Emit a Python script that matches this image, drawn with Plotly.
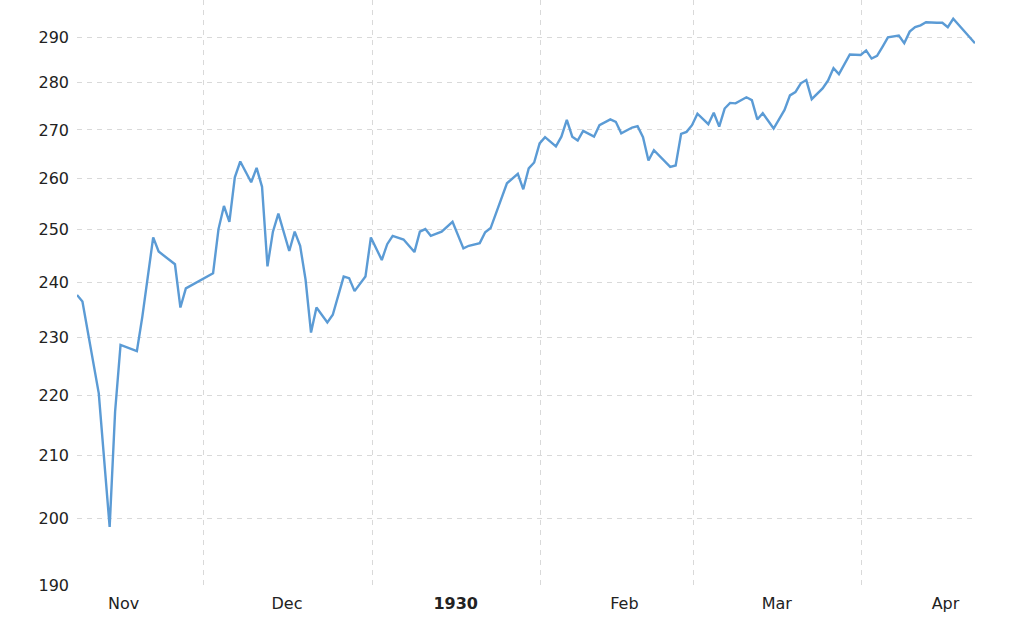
import math
import pandas as pd
import plotly.graph_objects as go

dates = [
    "1929-11-07", "1929-11-08", "1929-11-11", "1929-11-13", "1929-11-14", "1929-11-15",
    "1929-11-18", "1929-11-19", "1929-11-21", "1929-11-22", "1929-11-25", "1929-11-26",
    "1929-11-27", "1929-12-02", "1929-12-03", "1929-12-04", "1929-12-05", "1929-12-06",
    "1929-12-07", "1929-12-09", "1929-12-10", "1929-12-11", "1929-12-12", "1929-12-13",
    "1929-12-14", "1929-12-16", "1929-12-17", "1929-12-18", "1929-12-19", "1929-12-20",
    "1929-12-21", "1929-12-23", "1929-12-24", "1929-12-26", "1929-12-27", "1929-12-28",
    "1929-12-30", "1929-12-31", "1930-01-02", "1930-01-03", "1930-01-04", "1930-01-06",
    "1930-01-08", "1930-01-09", "1930-01-10", "1930-01-11", "1930-01-13", "1930-01-15",
    "1930-01-17", "1930-01-18", "1930-01-20", "1930-01-21", "1930-01-22", "1930-01-24",
    "1930-01-25", "1930-01-27", "1930-01-28", "1930-01-29", "1930-01-30", "1930-01-31",
    "1930-02-01", "1930-02-03", "1930-02-04", "1930-02-05", "1930-02-06", "1930-02-07",
    "1930-02-08", "1930-02-10", "1930-02-11", "1930-02-13", "1930-02-14", "1930-02-15",
    "1930-02-17", "1930-02-18", "1930-02-19", "1930-02-20", "1930-02-21", "1930-02-24",
    "1930-02-25", "1930-02-26", "1930-02-27", "1930-02-28", "1930-03-01", "1930-03-03",
    "1930-03-04", "1930-03-05", "1930-03-06", "1930-03-07", "1930-03-08", "1930-03-10",
    "1930-03-11", "1930-03-12", "1930-03-13", "1930-03-15", "1930-03-17", "1930-03-18",
    "1930-03-19", "1930-03-20", "1930-03-21", "1930-03-22", "1930-03-24", "1930-03-25",
    "1930-03-26", "1930-03-27", "1930-03-29", "1930-03-31", "1930-04-01", "1930-04-02",
    "1930-04-03", "1930-04-04", "1930-04-05", "1930-04-07", "1930-04-08", "1930-04-09",
    "1930-04-10", "1930-04-11", "1930-04-12", "1930-04-14", "1930-04-15", "1930-04-16",
    "1930-04-17", "1930-04-21",
]

values = [
    237.7, 236.5, 220.3, 198.7, 217.2, 228.7,
    227.6, 233.7, 248.5, 245.8, 243.4, 235.4,
    238.9, 241.7, 250.1, 254.6, 251.5, 260.3,
    263.5, 259.3, 262.2, 258.4, 243.0, 249.6,
    253.1, 245.9, 249.6, 246.9, 240.5, 230.9,
    235.4, 232.7, 234.1, 241.1, 240.8, 238.4,
    241.1, 248.5, 244.2, 247.2, 248.8, 248.1,
    245.7, 249.6, 250.1, 248.8, 249.6, 251.5,
    246.4, 246.9, 247.4, 249.5, 250.3, 256.4,
    259.1, 261.0, 257.9, 262.1, 263.3, 267.2,
    268.5, 266.6, 268.6, 272.1, 268.6, 267.8,
    269.8, 268.6, 271.0, 272.2, 271.7, 269.3,
    270.5, 270.8, 268.5, 263.7, 265.8, 262.4,
    262.7, 269.2, 269.6, 271.0, 273.4, 271.2,
    273.6, 270.7, 274.5, 275.7, 275.6, 276.9,
    276.3, 272.2, 273.5, 270.3, 274.2, 277.3,
    278.0, 279.9, 280.6, 276.5, 278.8, 280.5,
    283.2, 281.9, 286.2, 286.1, 287.1, 285.3,
    285.9, 287.9, 290.0, 290.4, 288.7, 291.3,
    292.3, 292.7, 293.4, 293.3, 293.3, 292.3,
    294.2, 288.7,
]

month_starts = ["1929-11-01", "1929-12-01", "1930-01-01", "1930-02-01",
                "1930-03-01", "1930-04-01", "1930-05-01"]
month_labels = ["Nov", "Dec", "<b>1930</b>", "Feb", "Mar", "Apr"]

y_ticks = [190, 200, 210, 220, 230, 240, 250, 260, 270, 280, 290]
y_ticktext = [str(v) for v in y_ticks]

# month boundaries (slightly shifted like the source chart) and mid-month label positions
shift = pd.Timedelta(hours=19)
grid_vals = [(pd.Timestamp(m) - shift).strftime("%Y-%m-%d %H:%M:%S")
             for m in month_starts[1:-1]]
label_vals = [(pd.Timestamp(m) + pd.Timedelta(days=14, hours=14)).strftime("%Y-%m-%d %H:%M:%S")
              for m in month_starts[:len(month_labels)]]

fig = go.Figure()
fig.add_trace(go.Scatter(
    x=dates, y=values, mode="lines",
    line=dict(color="#5b9bd5", width=2.4),
    hoverinfo="x+y", showlegend=False,
))

grid_color = "#d9d9d9"
fig.update_layout(
    width=1024, height=618,
    margin=dict(l=77, r=49, t=0, b=33),
    paper_bgcolor="white", plot_bgcolor="white",
    font=dict(family="DejaVu Sans, Verdana, sans-serif", size=16, color="#222222"),
    xaxis=dict(
        type="date",
        range=[dates[0], dates[-1]],
        tickmode="array", tickvals=label_vals, ticktext=month_labels,
        showgrid=False, ticks="", showline=False, zeroline=False,
        ticklabelstandoff=7,
        minor=dict(tickmode="array", tickvals=grid_vals, showgrid=True,
                   gridcolor=grid_color, griddash="5px,5px", gridwidth=1, ticks=""),
    ),
    yaxis=dict(
        type="log",
        range=[math.log10(190), math.log10(298.5)],
        tickmode="array", tickvals=y_ticks, ticktext=y_ticktext,
        showgrid=True, gridcolor=grid_color, griddash="5px,5px", gridwidth=1,
        ticks="", showline=False, zeroline=False,
        ticklabelstandoff=7,
    ),
)

fig.write_html("out.html", config={"displayModeBar": False},
               post_script="document.body.style.margin='0';")
